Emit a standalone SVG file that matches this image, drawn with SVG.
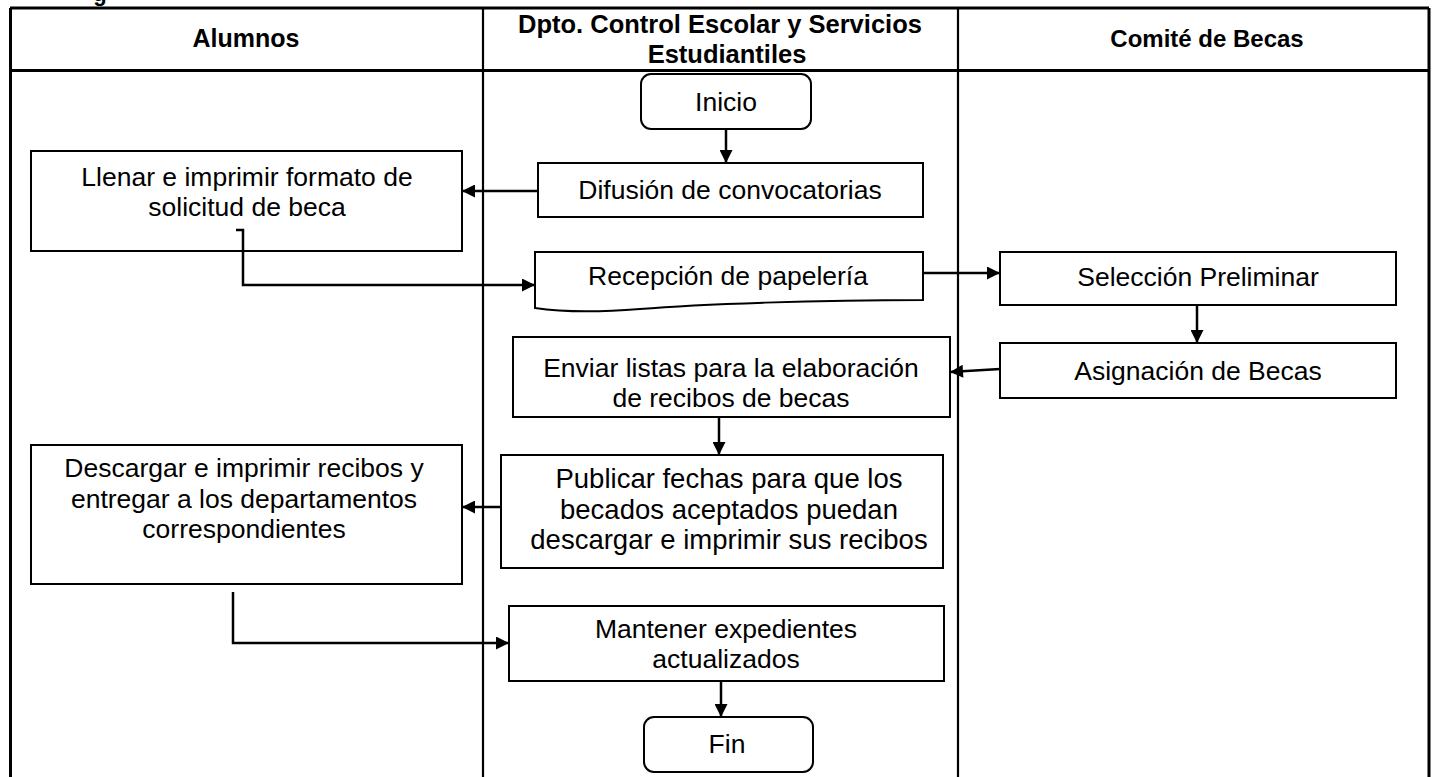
<svg xmlns="http://www.w3.org/2000/svg" width="1434" height="777" viewBox="0 0 1434 777">
<style>
.lane{fill:none;stroke:#000;stroke-width:3}
.div{fill:none;stroke:#000;stroke-width:2.2}
.box{fill:#fff;stroke:#000;stroke-width:2}
.hd{font-family:"Liberation Sans",Arial,sans-serif;font-weight:bold;fill:#000;text-anchor:middle}
.t{font-family:"Liberation Sans",Arial,sans-serif;font-size:26.5px;fill:#000;text-anchor:middle}
.c{fill:none;stroke:#000;stroke-width:2.5}
</style>
<defs>
<marker id="ah" viewBox="0 0 10 10" refX="10" refY="5" markerWidth="15" markerHeight="13" markerUnits="userSpaceOnUse" orient="auto">
<path d="M0,0 L10,5 L0,10 z" fill="#000"/>
</marker>
</defs>
<rect width="1434" height="777" fill="#fff"/>
<text class="hd" x="100" y="1" style="font-size:22px">g</text>
<g id="lanes">
<line class="lane" x1="10" y1="8" x2="1429" y2="8"/>
<line class="lane" x1="10" y1="70.5" x2="1429" y2="70.5"/>
<line class="lane" x1="10.5" y1="8" x2="10.5" y2="777"/>
<line class="lane" x1="1429" y1="8" x2="1429" y2="777"/>
<line class="div" x1="483" y1="8" x2="483" y2="777"/>
<line class="div" x1="958" y1="8" x2="958" y2="777"/>
<text class="hd" x="246" y="47" style="font-size:25px">Alumnos</text>
<text class="hd" x="720" y="33" style="font-size:25.5px">Dpto. Control Escolar y Servicios</text>
<text class="hd" x="727" y="63" style="font-size:25.5px">Estudiantiles</text>
<text class="hd" x="1207" y="47" style="font-size:24px">Comité de Becas</text>
</g>
<g id="inicio">
<rect class="box" x="641" y="74" width="170" height="55" rx="10"/>
<text class="t" x="726" y="111">Inicio</text>
</g>
<g id="difusion">
<rect class="box" x="538" y="163" width="385" height="54"/>
<text class="t" x="730" y="199">Difusión de convocatorias</text>
</g>
<g id="llenar">
<rect class="box" x="31" y="151" width="431" height="100"/>
<text class="t" x="247" y="186">Llenar e imprimir formato de</text>
<text class="t" x="247" y="216">solicitud de beca</text>
</g>
<g id="recepcion">
<path class="box" d="M535,252 H923 V300 C820,300 700,304 640,309 C590,313 555,311 535,308 Z"/>
<text class="t" x="728" y="285">Recepción de papelería</text>
</g>
<g id="seleccion">
<rect class="box" x="1000" y="252" width="396" height="53"/>
<text class="t" x="1198" y="286">Selección Preliminar</text>
</g>
<g id="asignacion">
<rect class="box" x="1000" y="343" width="396" height="55"/>
<text class="t" x="1198" y="380">Asignación de Becas</text>
</g>
<g id="enviar">
<rect class="box" x="513" y="337" width="437" height="80"/>
<text class="t" x="731" y="377">Enviar listas para la elaboración</text>
<text class="t" x="731" y="407">de recibos de becas</text>
</g>
<g id="publicar">
<rect class="box" x="501" y="455" width="442" height="113"/>
<text class="t" x="729" y="488" style="font-size:27.5px">Publicar fechas para que los</text>
<text class="t" x="729" y="519" style="font-size:27.5px">becados aceptados puedan</text>
<text class="t" x="729" y="549" style="font-size:27.5px">descargar e imprimir sus recibos</text>
</g>
<g id="descargar">
<rect class="box" x="31" y="445" width="431" height="139"/>
<text class="t" x="244" y="477">Descargar e imprimir recibos y</text>
<text class="t" x="244" y="508">entregar a los departamentos</text>
<text class="t" x="244" y="538">correspondientes</text>
</g>
<g id="mantener">
<rect class="box" x="509" y="606" width="435" height="75"/>
<text class="t" x="726" y="638">Mantener expedientes</text>
<text class="t" x="726" y="668">actualizados</text>
</g>
<g id="fin">
<rect class="box" x="644" y="717" width="169" height="55" rx="10"/>
<text class="t" x="727" y="753">Fin</text>
</g>
<g id="connectors">
<line class="c" x1="726" y1="129" x2="726" y2="163" marker-end="url(#ah)"/>
<line class="c" x1="538" y1="191" x2="462" y2="191" marker-end="url(#ah)"/>
<polyline class="c" points="236,230 243,230 243,285 535,285" marker-end="url(#ah)"/>
<line class="c" x1="923" y1="273" x2="1000" y2="273" marker-end="url(#ah)"/>
<line class="c" x1="1197" y1="305" x2="1197" y2="343" marker-end="url(#ah)"/>
<line class="c" x1="1000" y1="369" x2="950" y2="372" marker-end="url(#ah)"/>
<line class="c" x1="719" y1="417" x2="719" y2="455" marker-end="url(#ah)"/>
<line class="c" x1="501" y1="507" x2="462" y2="507" marker-end="url(#ah)"/>
<polyline class="c" points="233,592 233,643 509,643" marker-end="url(#ah)"/>
<line class="c" x1="721" y1="681" x2="721" y2="717" marker-end="url(#ah)"/>
</g>
</svg>
